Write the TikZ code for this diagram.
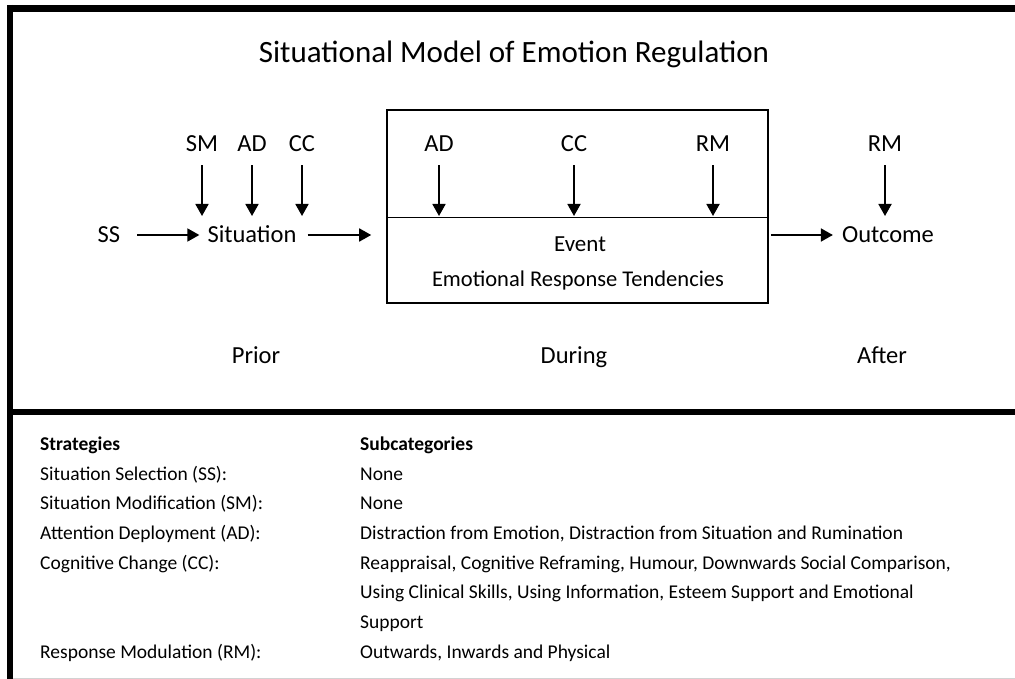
\documentclass[tikz,border=0pt]{standalone}
\usepackage{fontspec}
\setmainfont{Carlito}
\usetikzlibrary{arrows.meta}

\tikzstyle{heavy line}=[draw,line width=6.5pt]
\tikzstyle{abbrev}=[inner sep=0pt,text height=16pt,text depth=0pt,font=\fontsize{24.5}{28}\selectfont]
\tikzstyle{phase}=[inner sep=0pt,anchor=base,font=\fontsize{24.5}{28}\selectfont]
\tikzstyle{row}=[inner sep=0pt,anchor=base west,font=\fontsize{19.5}{24}\selectfont]
\tikzstyle{row head}=[row,font=\fontsize{19.5}{24}\selectfont\bfseries]
\tikzstyle{flow}=[draw,line width=1.8pt,-{Triangle[width=13pt,length=12pt]}]
\tikzstyle{event box}=[draw,line width=1.6pt,inner sep=0pt,minimum width=381pt,minimum height=193pt]

\begin{document}
\begin{tikzpicture}[x=1pt,y=-1pt]
	\useasboundingbox (0,0) rectangle (1015,679);
	% frame round the model and the table
	\draw[heavy line] (10,5) -- (10,679);
	\draw[heavy line] (7,8.5) -- (1015,8.5);
	\draw[heavy line] (10,412) -- (1015,412);
	\draw[gray!35,line width=1pt] (13,678) -- (1015,678);

	\node[inner sep=0pt,anchor=base,font=\fontsize{31}{36}\selectfont] (title) at (514,63) {Situational Model of Emotion Regulation};

	% prior
	\node[abbrev] (ss) at (109,235) {SS};
	\node[abbrev] (sit) at (252,235) {Situation};
	\node[abbrev] (sm) at (202,144) {SM};
	\node[abbrev] (adp) at (252,144) {AD};
	\node[abbrev] (ccp) at (302,144) {CC};
	% during
	\node[event box] (evbox) at (577.5,206.5) {};
	\coordinate (split) at (577.5,217.5);
	\node[abbrev] (ad) at (439,144) {AD};
	\node[abbrev] (cc) at (574,144) {CC};
	\node[abbrev] (rm) at (713,144) {RM};
	\node[phase,font=\fontsize{23}{27}\selectfont] (event) at (580,252) {Event};
	\node[phase,font=\fontsize{22.5}{26}\selectfont] (ert) at (578,287) {Emotional Response Tendencies};
	% after
	\node[abbrev] (out) at (888,235) {Outcome};
	\node[abbrev] (rmo) at (885,144) {RM};

	\foreach \src/\x in {sm/202,adp/252,ccp/302,ad/439,cc/574,rm/713,rmo/885}
		\coordinate (\src tip) at (\x,216);

	\node[phase] (prior) at (256,363) {Prior};
	\node[phase] (during) at (574,363) {During};
	\node[phase] (after) at (882,363) {After};

	\draw[line width=1.4pt] (evbox.west |- split) -- (evbox.east |- split);
	% arrows
	\foreach \src in {sm,adp,ccp,ad,cc,rm,rmo}
		\path[flow,shorten <=13pt] (\src) -- (\src tip);
	\path[flow,shorten <=17pt,shorten >=8pt] (ss) -- (sit);
	\path[flow,shorten <=11pt,shorten >=15pt] (sit) -- (sit -| evbox.west);
	\path[flow,shorten <=2pt,shorten >=9pt] (out -| evbox.east) -- (out);

	% strategies table
	\node[row head] (strat) at (40,450) {Strategies};
	\node[row head] (subcat) at (360,450) {Subcategories};
	\node[row] (ss name) at (40,480) {Situation Selection (SS):};
	\node[row] (ss sub) at (360,480) {None};
	\node[row] (sm name) at (40,509.5) {Situation Modification (SM):};
	\node[row] (sm sub) at (360,509.5) {None};
	\node[row] (ad name) at (40,539) {Attention Deployment (AD):};
	\node[row] (ad sub) at (360,539) {Distraction from Emotion, Distraction from Situation and Rumination};
	\node[row] (cc name) at (40,569) {Cognitive Change (CC):};
	\node[row] (cc sub) at (360,569) {Reappraisal, Cognitive Reframing, Humour, Downwards Social Comparison,};
	\node[row] (cc sub2) at (360,598) {Using Clinical Skills, Using Information, Esteem Support and Emotional};
	\node[row] (cc sub3) at (360,628) {Support};
	\node[row] (rm name) at (40,658) {Response Modulation (RM):};
	\node[row] (rm sub) at (360,658) {Outwards, Inwards and Physical};
\end{tikzpicture}
\end{document}
